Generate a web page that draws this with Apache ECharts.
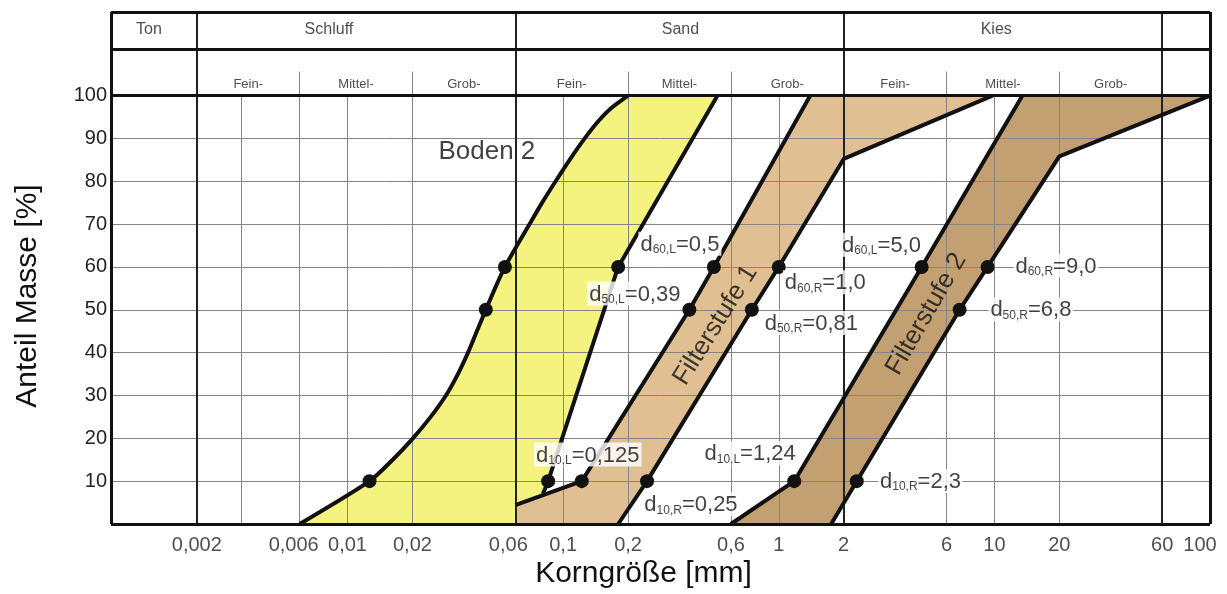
<!DOCTYPE html>
<html>
<head>
<meta charset="utf-8">
<script src="https://cdn.jsdelivr.net/npm/echarts@6/dist/echarts.min.js"></script>
<style>
  html, body { margin: 0; padding: 0; background: #fff; }
  #chart { width: 1227px; height: 594px; }
</style>
</head>
<body>
<div id="chart"></div>
<script>
var FONT = '"Liberation Sans", Arial, sans-serif';

// Achsen (Korngröße in mm, logarithmisch)
var xMin = 0.0008, xMax = 100, yTop = 119.5;
var xTicks = [0.002, 0.006, 0.01, 0.02, 0.06, 0.1, 0.2, 0.6, 1, 2, 6, 10, 20, 60, 100];
var thinLines = [0.0032, 0.006, 0.01, 0.02, 0.1, 0.2, 0.6, 1, 6, 10, 20];
var mainBounds = [0.0008, 0.002, 0.06, 2, 60];
var mainNames = ['Ton', 'Schluff', 'Sand', 'Kies'];
var mainCenters = [0.0012, 0.0082, 0.35, 10.2];
var subGroups = [[0.002, 0.006, 0.02, 0.06], [0.06, 0.2, 0.6, 2], [2, 6, 20, 60]];
var subNames = ['Fein-', 'Mittel-', 'Grob-'];
var yGrid = [10, 20, 30, 40, 50, 60, 70, 80, 90];

// Sieblinien [d in mm, Anteil in %]
var boden2Fine = [[0.006, 0], [0.01265, 10], [0.0162, 15], [0.0201, 20], [0.0243, 25], [0.0286, 30],
  [0.0325, 35], [0.0362, 40], [0.0398, 45], [0.0438, 50], [0.0483, 55], [0.0537, 60],
  [0.0611, 65], [0.0699, 70], [0.0799, 75], [0.0923, 80], [0.1072, 85], [0.1259, 90],
  [0.1455, 94], [0.1663, 97], [0.2, 100]];
var boden2Coarse = [[0.52, 100], [0.18, 60], [0.0852, 10], [0.0805, 7]];
var filter1Fine = [[0.06, 4.4], [0.122, 10], [0.385, 50], [0.5, 60], [1.4, 100]];
var filter1Coarse = [[0.18, 0], [0.245, 10], [0.75, 50], [1.0, 60], [2.0, 85.2], [9.8, 100]];
var filter2Fine = [[0.6, 0], [1.18, 10], [4.6, 60], [13.5, 100]];
var filter2Coarse = [[1.75, 0], [2.3, 10], [6.9, 50], [9.3, 60], [20, 85.8], [100, 100]];

var dots = [[0.01265, 10], [0.0438, 50], [0.0537, 60], [0.18, 60], [0.0852, 10],
  [0.122, 10], [0.385, 50], [0.5, 60], [0.245, 10], [0.75, 50], [1.0, 60],
  [1.18, 10], [4.6, 60], [2.3, 10], [6.9, 50], [9.3, 60]];

// Beschriftungen: [Index, Wert, d, %] (linke Kante, Mitte)
var notes = [
  ['60,L', '0,5', 0.2234, 65.4],
  ['50,L', '0,39', 0.1293, 53.8],
  ['60,R', '1,0', 1.044, 56.4],
  ['50,R', '0,81', 0.8425, 46.9],
  ['60,L', '5,0', 1.922, 65.2],
  ['60,R', '9,0', 12.26, 60.3],
  ['50,R', '6,8', 9.38, 50.1],
  ['10,L', '0,125', 0.0733, 16.2],
  ['10,R', '0,25', 0.233, 4.6],
  ['10,L', '1,24', 0.443, 16.5],
  ['10,R', '2,3', 2.887, 10.0]
];
// [Text, d, %, Drehung] (Mitte)
var names = [
  ['Boden 2', 0.0443, 86.8, 0],
  ['Filterstufe 1', 0.509, 46.4, 58],
  ['Filterstufe 2', 4.83, 49.0, 60]
];

function geo(a, b) { return Math.sqrt(a * b); }
function fmt(v) { return String(v).replace('.', ','); }

var fills = [
  { pts: boden2Fine.concat(boden2Coarse, [[0.06, 0]]), color: '#f4f380' },
  { pts: [[0.06, 0]].concat(filter1Fine, filter1Coarse.slice().reverse()), color: '#e0c093' },
  { pts: filter2Fine.concat(filter2Coarse.slice().reverse()), color: '#c2a071' }
];

var thin = { color: '#858585', width: 1, type: 'solid' };
var dark = { color: '#222', width: 2, type: 'solid' };
var thick = { color: '#111', width: 3, type: 'solid' };
function seg(a, b, style) { return [{ coord: a, lineStyle: style }, { coord: b }]; }

var lines = [];
yGrid.forEach(function (p) { lines.push(seg([xMin, p], [xMax, p], thin)); });
thinLines.forEach(function (v) { lines.push(seg([v, 0], [v, 100], thin)); });
[0.006, 0.02, 0.2, 0.6, 6, 20].forEach(function (v) { lines.push(seg([v, 100], [v, 105.6], thin)); });
mainBounds.slice(1).forEach(function (v) { lines.push(seg([v, 0], [v, yTop], dark)); });
[0, 100, 110.9, yTop].forEach(function (p) { lines.push(seg([xMin, p], [xMax, p], thick)); });
[xMin, xMax].forEach(function (v) { lines.push(seg([v, 0], [v, yTop], thick)); });
// kurze Überstände am Achsenkreuz
lines.push(seg([0.00074, 0], [xMin, 0], thick));
lines.push(seg([0.00074, 100], [xMin, 100], thick));
lines.push(seg([xMin, -2.3], [xMin, 0], thick));

var headerData = [];
mainNames.forEach(function (n, i) {
  headerData.push({ value: [mainCenters[i], 115.3], label: { formatter: n, fontSize: 16 } });
});
subGroups.forEach(function (g) {
  subNames.forEach(function (n, i) {
    headerData.push({ value: [geo(g[i], g[i + 1]), 102.6], label: { formatter: n, fontSize: 13 } });
  });
});

// kleine Verschiebung einzelner Achsbeschriftungen wie im Original
var tickShift = { 0.006: -6, 0.06: -7, 100: -10 };

function edge(data, smooth) {
  return {
    type: 'line', data: data, smooth: smooth || false, symbol: 'none', z: 3, silent: true,
    lineStyle: { color: '#111', width: 4 }, animation: false
  };
}

var chart = echarts.init(document.getElementById('chart'));
chart.setOption({
  animation: false,
  grid: { left: 111, right: 17, top: 12, bottom: 67 },
  xAxis: {
    type: 'log', logBase: 10, min: xMin, max: xMax,
    axisLine: { show: false }, axisTick: { show: false }, axisLabel: { show: false },
    splitLine: { show: false }, minorSplitLine: { show: false },
    name: 'Korngröße [mm]', nameLocation: 'middle', nameGap: 35,
    nameTextStyle: { fontSize: 30, fontFamily: FONT, color: '#111', padding: [0, 34, 0, 0] }
  },
  yAxis: {
    type: 'value', min: 0, max: yTop, interval: 10,
    axisLine: { show: false }, axisTick: { show: false }, splitLine: { show: false },
    axisLabel: {
      margin: 4, fontSize: 20, fontFamily: FONT, color: '#222',
      formatter: function (v) { return (v > 0 && v <= 100) ? v : ''; }
    }
  },
  graphic: [{
    type: 'text', x: 28, y: 296, rotation: Math.PI / 2,
    style: { text: 'Anteil Masse [%]', fontSize: 30, fontFamily: FONT, fill: '#111', align: 'center', verticalAlign: 'middle' }
  }],
  series: [
    {
      type: 'custom', z: 1, silent: true,
      data: fills.map(function (f, i) { return [1, i]; }),
      renderItem: function (params, api) {
        var f = fills[params.dataIndex];
        return {
          type: 'polygon',
          shape: { points: f.pts.map(function (p) { return api.coord(p); }) },
          style: { fill: f.color }
        };
      }
    },
    {
      type: 'line', data: [], z: 2, silent: true,
      markLine: { z: 2, silent: true, symbol: ['none', 'none'], label: { show: false }, data: lines, animation: false }
    },
    edge(boden2Fine, 0.25), edge(boden2Coarse), edge(filter1Fine), edge(filter1Coarse),
    edge(filter2Fine), edge(filter2Coarse),
    {
      type: 'scatter', data: dots, symbolSize: 14, z: 4, silent: true,
      itemStyle: { color: '#111', opacity: 1 }
    },
    {
      type: 'scatter', z: 6, silent: true, symbolSize: 0,
      data: notes.map(function (n) { return { value: [n[2], n[3]], sub: n[0], val: n[1] }; }),
      label: {
        show: true, position: 'right', distance: 0, backgroundColor: '#fff', padding: [0, 2, 0, 2],
        formatter: function (p) { return '{d|d}{s|' + p.data.sub + '}{d|=' + p.data.val + '}'; },
        rich: {
          d: { fontSize: 22, fontFamily: FONT, color: '#111', lineHeight: 24, verticalAlign: 'bottom' },
          s: { fontSize: 12, fontFamily: FONT, color: '#111', lineHeight: 10, verticalAlign: 'bottom' }
        }
      }
    },
    {
      type: 'scatter', z: 6, silent: true, symbolSize: 0,
      data: names.map(function (n) {
        return { value: [n[1], n[2]], label: { formatter: n[0], rotate: n[3] } };
      }),
      label: { show: true, position: 'inside', fontSize: 26, fontFamily: FONT, color: '#111' }
    },
    {
      type: 'scatter', z: 6, silent: true, symbolSize: 0, clip: false,
      data: headerData,
      label: { show: true, position: 'inside', fontFamily: FONT, color: '#222' }
    },
    {
      type: 'scatter', z: 6, silent: true, symbolSize: 0, clip: false,
      data: xTicks.map(function (v) {
        return { value: [v, 0], label: { offset: [tickShift[v] || 0, 0] } };
      }),
      label: {
        show: true, position: 'bottom', distance: 11, fontSize: 20, fontFamily: FONT, color: '#222',
        formatter: function (p) { return fmt(p.value[0]); }
      }
    }
  ]
});
</script>
</body>
</html>
